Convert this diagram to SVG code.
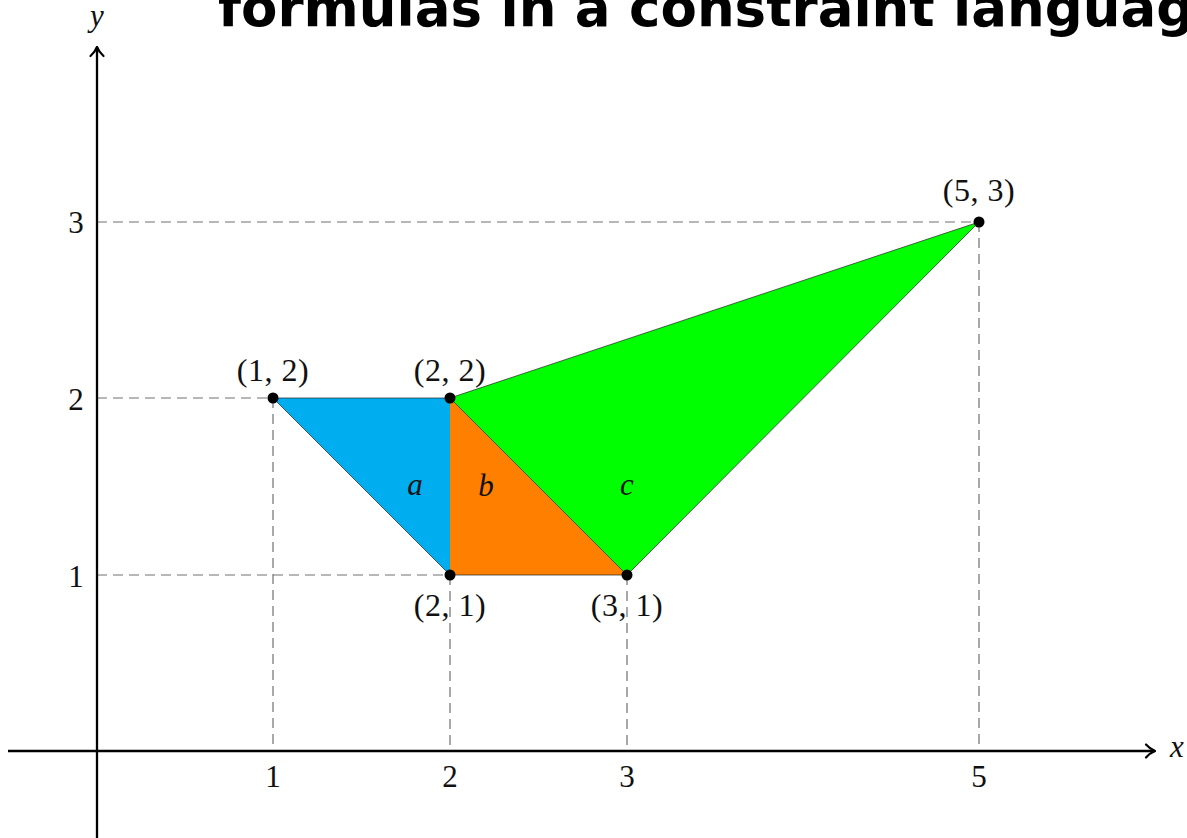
<svg xmlns="http://www.w3.org/2000/svg" width="1187" height="838" viewBox="0 0 1187 838">
<defs>
<style>
.title{font-family:"DejaVu Sans",Verdana,sans-serif;font-weight:bold;font-size:53px;fill:#000}
.m{font-family:"Liberation Serif","DejaVu Serif",serif;font-size:31px;fill:#111}
.lbl{font-family:"Liberation Serif","DejaVu Serif",serif;font-size:32px;fill:#111;letter-spacing:0.5px}
.mi{font-family:"Liberation Serif","DejaVu Serif",serif;font-style:italic;font-size:31px;fill:#111}
.guide{stroke:#707070;stroke-width:1.2;stroke-dasharray:10 6;fill:none}
.axis{stroke:#000;stroke-width:2.3;fill:none}
.dot{fill:#000}
</style>
<marker id="arr" viewBox="0 0 12 16" refX="11" refY="8" markerWidth="12" markerHeight="16" markerUnits="userSpaceOnUse" orient="auto">
<path d="M2,1.5 Q6,6 11,8 Q6,10 2,14.5" fill="none" stroke="#000" stroke-width="2.2" stroke-linecap="round"/>
</marker>
</defs>
<rect width="1187" height="838" fill="#fff"/>
<g id="title"><text class="title" x="218" y="26">formulas in a constraint language</text></g>
<g id="connectors">
<g id="guides">
<path class="guide" d="M97,222 H979 M97,398 H273 M97,575 H450 M273,398 V751 M450,575 V751 M627,575 V751 M979,222 V751"/>
</g>
</g>
<g id="tri-a"><polygon points="273,398 450,398 450,575" fill="#00AEEF"/></g>
<g id="tri-b"><polygon points="450,398 450,575 627,575" fill="#FF8000"/></g>
<g id="tri-c"><polygon points="450,398 627,575 979,222" fill="#00FF00"/></g>
<g id="edges"><path d="M273,398 L450,398 L979,222 L627,575 L450,575 Z M450,398 L627,575" fill="none" stroke="#222" stroke-width="1" stroke-opacity="0.7" stroke-linejoin="round"/></g>
<g id="axes">
<path class="axis" d="M8,751 H1155" marker-end="url(#arr)"/>
<path class="axis" d="M97,838 V47" marker-end="url(#arr)"/>
<text class="mi" x="1177" y="757" text-anchor="middle">x</text>
<text class="mi" x="97" y="26" text-anchor="middle">y</text>
<text class="m" x="273" y="787" text-anchor="middle">1</text>
<text class="m" x="450" y="787" text-anchor="middle">2</text>
<text class="m" x="627" y="787" text-anchor="middle">3</text>
<text class="m" x="979" y="787" text-anchor="middle">5</text>
<text class="m" x="76" y="233" text-anchor="middle">3</text>
<text class="m" x="76" y="410" text-anchor="middle">2</text>
<text class="m" x="76" y="587" text-anchor="middle">1</text>
</g>
<g id="points">
<circle class="dot" cx="273" cy="398" r="5.5"/>
<circle class="dot" cx="450" cy="398" r="5.5"/>
<circle class="dot" cx="450" cy="575" r="5.5"/>
<circle class="dot" cx="627" cy="575" r="5.5"/>
<circle class="dot" cx="979" cy="222" r="5.5"/>
</g>
<g id="labels">
<text class="lbl" x="273" y="381" text-anchor="middle">(1, 2)</text>
<text class="lbl" x="450" y="381" text-anchor="middle">(2, 2)</text>
<text class="lbl" x="450" y="616" text-anchor="middle">(2, 1)</text>
<text class="lbl" x="627" y="616" text-anchor="middle">(3, 1)</text>
<text class="lbl" x="979" y="201" text-anchor="middle">(5, 3)</text>
<text class="mi" x="415" y="495" text-anchor="middle">a</text>
<text class="mi" x="486" y="496" text-anchor="middle">b</text>
<text class="mi" x="627" y="495" text-anchor="middle">c</text>
</g>
</svg>
